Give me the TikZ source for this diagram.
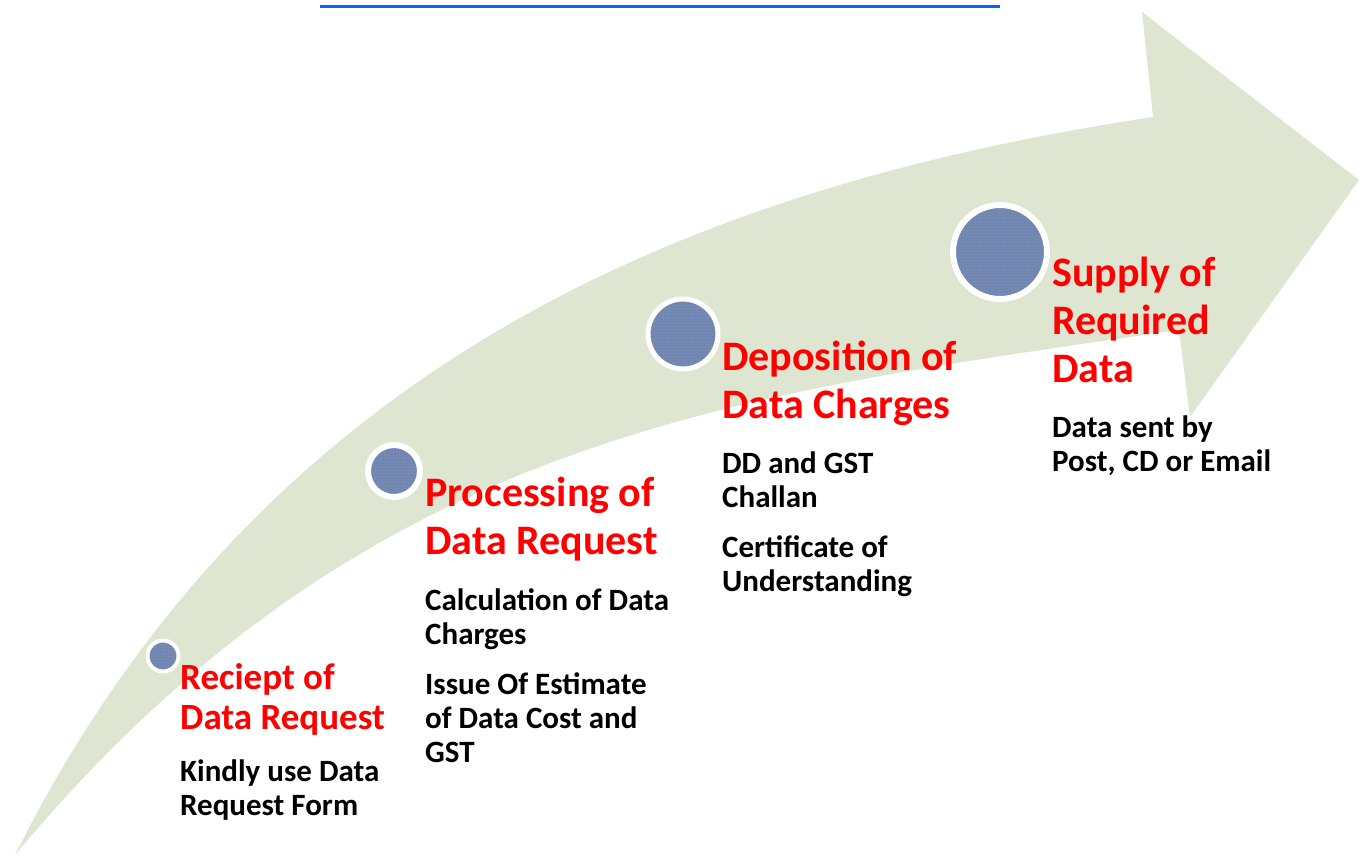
\documentclass[tikz,border=0pt]{standalone}
\usepackage{fontspec}
\setmainfont{Carlito}
\usepackage{tikz}
\usetikzlibrary{positioning,patterns}
\definecolor{bandgreen}{RGB}{222,230,210}
\definecolor{dotblue}{RGB}{104,134,190}
\definecolor{dotnavy}{RGB}{38,58,112}
\definecolor{linkblue}{RGB}{5,102,255}
\definecolor{headred}{RGB}{255,0,0}

\begin{document}
\begin{tikzpicture}[x=1pt,y=-1pt,
  stepdot/.style={circle, inner sep=0pt, fill=dotblue,
    postaction={pattern=grid, pattern color=dotnavy!60},
    postaction={draw=white, line width=#1}},
  head/.style={anchor=base west, inner sep=0pt, align=left, text=headred,
    font=\fontsize{42}{48}\selectfont\bfseries},
  note/.style={anchor=base west, inner sep=0pt, align=left,
    font=\fontsize{31}{34}\selectfont\bfseries}]
  \useasboundingbox (0,0) rectangle (1359,857);

  % the rising arrow
  \fill[bandgreen] (15,855) .. controls (365,435) and (730,395) .. (1179,330)
    -- (1190,417) -- (1359,180) -- (1142,12) -- (1153,117)
    .. controls (704,185) and (265,355) .. (15,855) -- cycle;

  % cut off link at the top
  \draw[linkblue, line width=3] (320,6) -- (1000,6);

  \node (c1) [stepdot=4, minimum size=31] at (163,656) {};
  \node (c2) [stepdot=6, minimum size=52] at (394,471) {};
  \node (c3) [stepdot=5, minimum size=70] at (683,334) {};
  \node (c4) [stepdot=6, minimum size=94] at (1000,252) {};

  % base is the last line of each node
  \node (h1) [head, font=\fontsize{37}{40}\selectfont\bfseries] at (180,729)
    {Reciept of\\Data Request};
  \node (b1) [note] at (180,815) {Kindly use Data\\Request Form};

  \node (h2) [head] at (425,554) {Processing of\\Data Request};
  \node (b2) [note] at (425,762)
    {Calculation of Data\\Charges\\[16pt]Issue Of Estimate\\of Data Cost and\\GST};

  \node (h3) [head] at (722,418) {Deposition of\\Data Charges};
  \node (b3) [note] at (722,591)
    {DD and GST\\Challan\\[16pt]Certificate of\\Understanding};

  \node (h4) [head] at (1052,382) {Supply of\\Required\\Data};
  \node (b4) [note] at (1052,471) {Data sent by\\Post, CD or Email};
\end{tikzpicture}
\end{document}
